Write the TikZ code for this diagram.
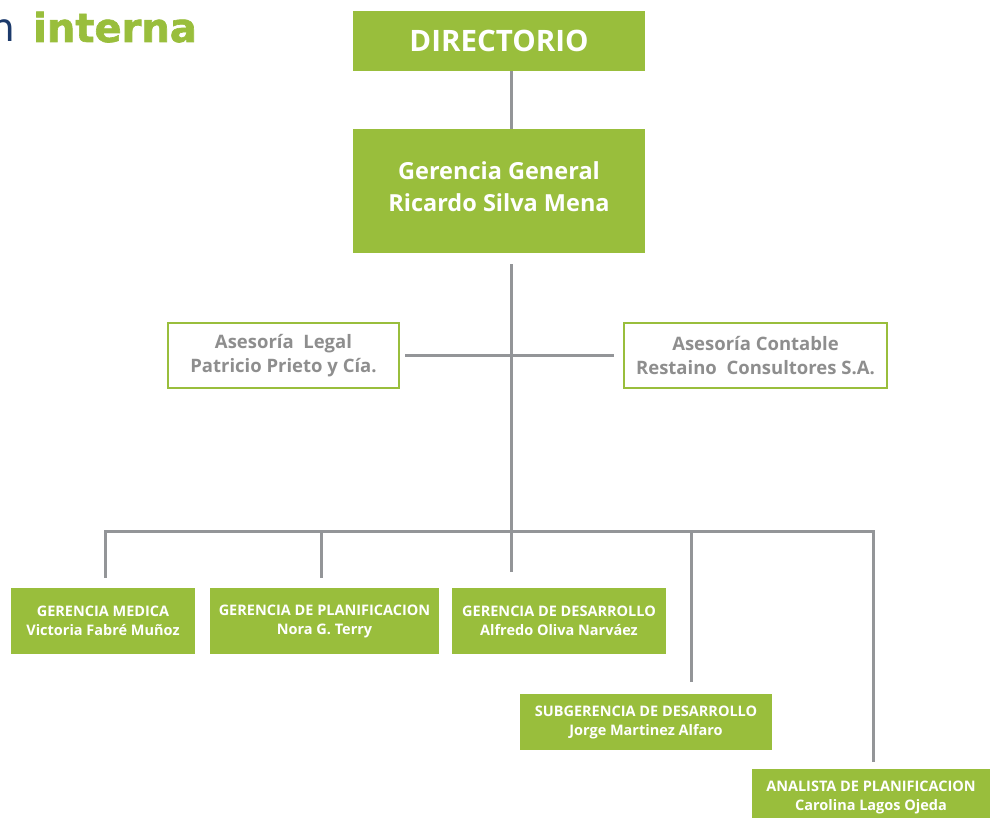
\documentclass[tikz,border=0pt]{standalone}
\usepackage{fontspec}
\setmainfont{Open Sans}
\newfontfamily\headfont{DejaVu Sans}
\newfontfamily\heavyfont{DejaVu Sans Bold}[FakeBold=1.6]
\definecolor{ogreen}{HTML}{99BE3C}
\definecolor{lgray}{HTML}{939598}
\definecolor{tgray}{HTML}{8E8E8E}
\definecolor{oblue}{HTML}{1C3A6B}
\begin{document}
\begin{tikzpicture}[x=1pt,y=-1pt,
  gbox/.style={fill=ogreen, text=white, inner sep=0pt, align=center, font=\bfseries},
  wbox/.style={fill=white, draw=ogreen, line width=2.5pt, text=tgray, inner sep=0pt, align=center, font=\bfseries\fontsize{18.5}{24}\selectfont},
  conn/.style={draw=lgray, line width=3pt}]
\useasboundingbox (0,0) rectangle (990,818);
\clip (0,0) rectangle (990,818);
% title fragment
\node[anchor=base west, inner sep=0pt, text=ogreen, font=\heavyfont\fontsize{40}{40}\selectfont] (ttl) at (33,42) {interna};
\node[anchor=base east, inner sep=0pt, text=oblue, font=\headfont\fontsize{39}{39}\selectfont] (ttn) at (15,42) {n};
% boxes
\node[gbox, minimum width=292pt, minimum height=60pt, font=\bfseries\fontsize{29.5}{29.5}\selectfont] (dir) at (499,41) {DIRECTORIO};
\node[gbox, minimum width=292pt, minimum height=124pt] (gg) at (499,191) {};
\node[text=white, inner sep=0pt, align=center, font=\bfseries\fontsize{23.5}{32}\selectfont] (ggt) at (gg.center) [yshift=4pt] {Gerencia General\\Ricardo Silva Mena};
\node[wbox, minimum width=231pt, minimum height=65pt] (legal) at (283.5,355.5) {Asesoría\ \ Legal\\Patricio Prieto y Cía.};
\node[wbox, minimum width=263pt, minimum height=65pt] (cont) at (755.5,355.5) {Asesoría Contable\\Restaino\ \ Consultores S.A.};
\tikzset{small/.style={gbox, minimum height=66pt, font=\bfseries\fontsize{14.5}{19}\selectfont}}
\node[small, minimum width=184pt] (med) at (103,621) {GERENCIA MEDICA\\Victoria Fabré Muñoz};
\node[small, minimum width=229pt] (plan) at (324.5,621) {GERENCIA DE PLANIFICACION\\Nora G. Terry};
\node[small, minimum width=214pt] (des) at (559,621) {GERENCIA DE DESARROLLO\\Alfredo Oliva Narváez};
\node[small, minimum width=252pt, minimum height=56pt] (sub) at (646,722) {SUBGERENCIA DE DESARROLLO\\Jorge Martinez Alfaro};
\node[small, minimum width=238pt, minimum height=56pt] (ana) at (871,797) {ANALISTA DE PLANIFICACION\\Carolina Lagos Ojeda};
% connector coordinates
\coordinate (trunk) at (511,531);
\coordinate (bL) at (105,531);
\coordinate (bP) at (321,531);
\coordinate (bS) at (691,531);
\coordinate (bR) at (873,531);
% connectors
\draw[conn] (dir.south -| trunk) -- (gg.north -| trunk);
\draw[conn] ([yshift=-11pt]gg.south -| trunk) -- ([yshift=16pt]des.north -| trunk);
\draw[conn] ([xshift=5pt]legal.east) -- ([xshift=-9pt]cont.west);
\draw[conn] ([yshift=10pt]med.north -| bL) |- (bR) -- ([yshift=7pt]ana.north -| bR);
\draw[conn] (bP) -- ([yshift=10pt]plan.north -| bP);
\draw[conn] (bS) -- ([yshift=12pt]sub.north -| bS);
\end{tikzpicture}
\end{document}
